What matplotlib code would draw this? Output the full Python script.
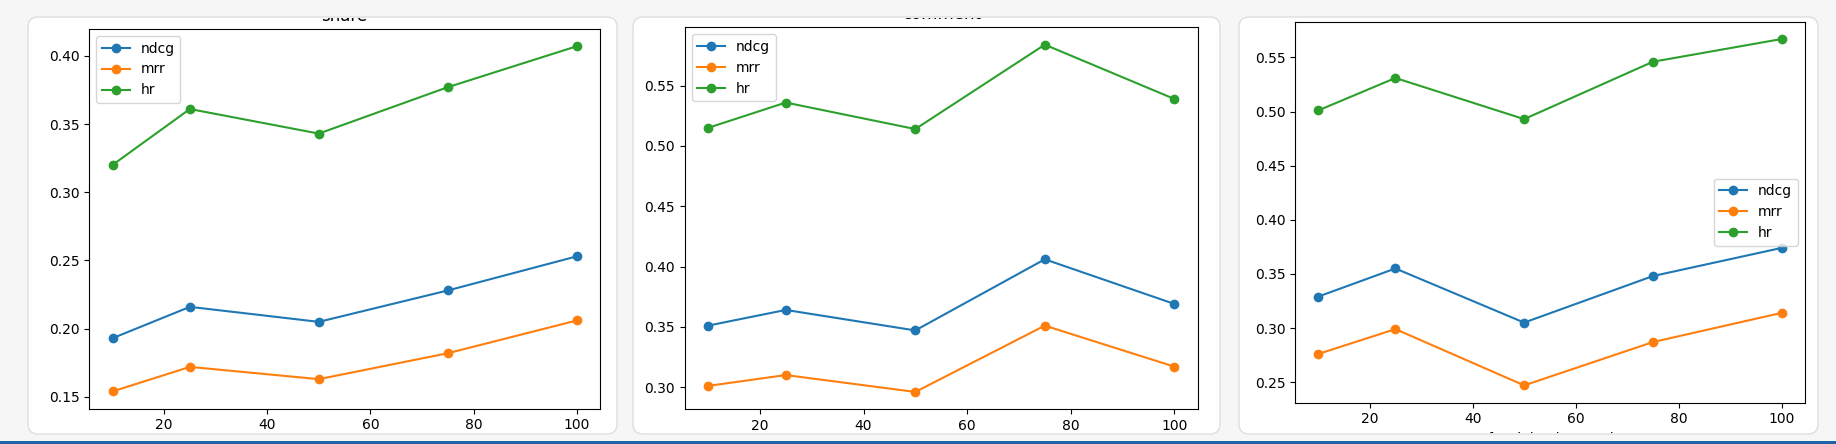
import matplotlib
matplotlib.use('Agg')
import matplotlib.pyplot as plt
from matplotlib.patches import FancyBboxPatch, Rectangle
from matplotlib.transforms import Bbox, TransformedBbox

#fraction of interactions used (x axis)
x_vals = [10, 25, 50, 75, 100]

#share
share_ndcg = [0.193, 0.216, 0.205, 0.228, 0.253]
share_mrr = [0.154, 0.172, 0.163, 0.182, 0.206]
share_hr = [0.320, 0.361, 0.343, 0.377, 0.407]

#comment
comment_ndcg = [0.351, 0.364, 0.347, 0.406, 0.369]
comment_mrr = [0.301, 0.310, 0.296, 0.351, 0.317]
comment_hr = [0.515, 0.536, 0.514, 0.584, 0.539]

#third panel
third_ndcg = [0.329, 0.355, 0.305, 0.348, 0.374]
third_mrr = [0.276, 0.299, 0.247, 0.287, 0.314]
third_hr = [0.501, 0.531, 0.493, 0.546, 0.567]

titles = ['share', 'comment', '']
xlabel3 = '% of training interactions'

W, H = 1836, 444
DPI = 100
fig = plt.figure(figsize=(W / DPI, H / DPI), dpi=DPI)
fig.patch.set_facecolor('#f6f6f6')

card_boxes = [(28, 17, 617, 434), (633, 17, 1220, 434), (1239, 17, 1818, 434)]
clips = []
for (x0, y0, x1, y1) in card_boxes:
    #pixel box (top-left origin) -> inches for dpi_scale_trans
    p = FancyBboxPatch((x0 / DPI, (H - y1) / DPI), (x1 - x0) / DPI, (y1 - y0) / DPI,
                       boxstyle='round,pad=0,rounding_size=0.1',
                       transform=fig.dpi_scale_trans, facecolor='white',
                       edgecolor='#dedede', linewidth=1.0, zorder=-1)
    fig.add_artist(p)
    #agg only clips text to rectangles
    bb = Bbox.from_extents(x0 / DPI, (H - y1 + 1) / DPI, x1 / DPI, (H - y0 - 1) / DPI)
    clips.append(TransformedBbox(bb, fig.dpi_scale_trans))

#blue strip at the bottom
fig.add_artist(Rectangle((0, 0), 1, 3 / H, transform=fig.transFigure,
                         facecolor='#1d63a6', edgecolor='none', zorder=5))

def axes_px(x0, y0, x1, y1):
    return fig.add_axes([x0 / W, (H - y1) / H, (x1 - x0) / W, (y1 - y0) / H])

axs = [axes_px(89.3, 29, 599.9, 408.7),
       axes_px(684.8, 27.3, 1197.6, 409.3),
       axes_px(1295, 21.7, 1804.8, 402.7)]

data = [(share_ndcg, share_mrr, share_hr),
        (comment_ndcg, comment_mrr, comment_hr),
        (third_ndcg, third_mrr, third_hr)]
legend_locs = ['upper left', 'upper left', 'center right']

for i, ax in enumerate(axs):
    ndcg, mrr, hr = data[i]
    ax.plot(x_vals, ndcg, marker='o', label='ndcg')
    ax.plot(x_vals, mrr, marker='o', label='mrr')
    ax.plot(x_vals, hr, marker='o', label='hr')
    ax.legend(loc=legend_locs[i])
    if titles[i]:
        t = ax.set_title(titles[i])
        t.set_clip_box(clips[i])
        t.set_clip_on(True)

xl = axs[2].set_xlabel(xlabel3)
xl.set_clip_box(clips[2])
xl.set_clip_on(True)

fig.savefig('out.png', dpi=DPI, facecolor=fig.get_facecolor())
